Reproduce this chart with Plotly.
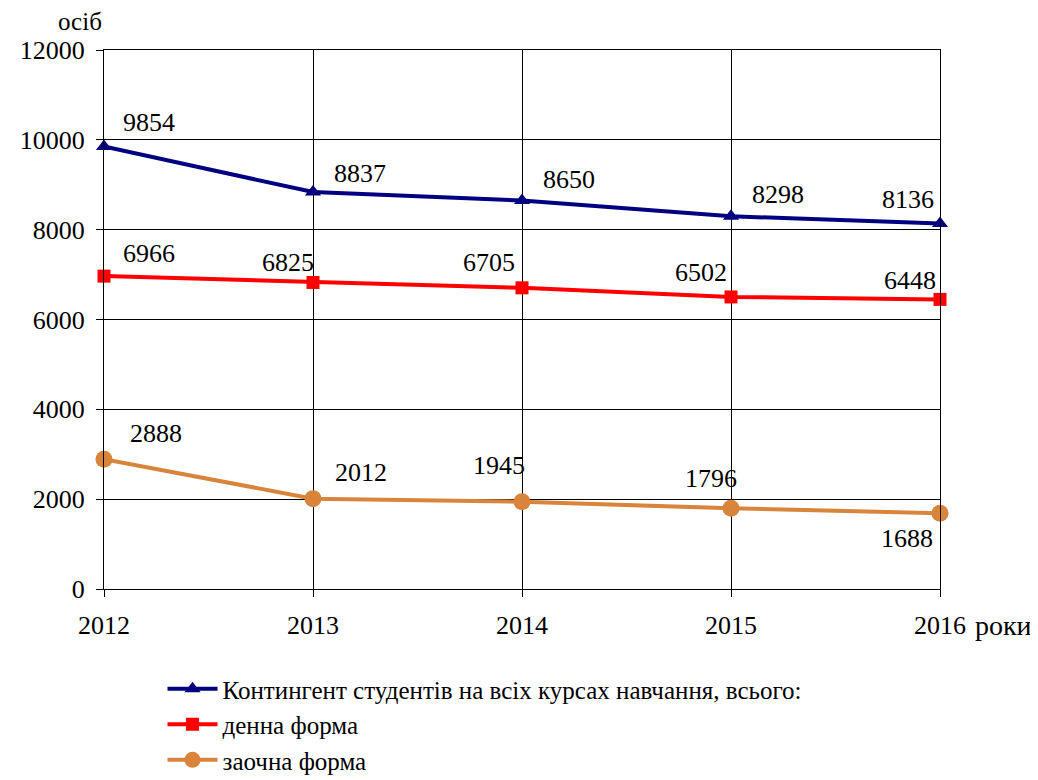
import plotly.graph_objects as go

# data
years = [2012, 2013, 2014, 2015, 2016]
total = [9854, 8837, 8650, 8298, 8136]
full_time = [6966, 6825, 6705, 6502, 6448]
part_time = [2888, 2012, 1945, 1796, 1688]

names = [
    "Контингент студентів на всіх курсах навчання, всього:",
    "денна форма",
    "заочна форма",
]

FONT = "Times New Roman, Liberation Serif, Tinos, serif"
NAVY = "#000080"
RED = "#ff0000"
ORANGE = "#d9843b"

# label offsets in px (dx, dy up) per point, so values sit where the original had them
_total_off = [(45, 24), (47, 19), (47, 21), (47, 22), (-32, 24)]
_full_off = [(45, 23), (-25, 20), (-33, 25), (-30, 24), (-30, 19)]
_part_off = [(52, 26), (48, 26), (-23, 36), (-20, 30), (-33, -25)]

series = [
    (names[0], total, NAVY, "triangle-up", 14, _total_off),
    (names[1], full_time, RED, "square", 13, _full_off),
    (names[2], part_time, ORANGE, "circle", 17, _part_off),
]

fig = go.Figure()
annotations = []
for name, vals, color, symbol, size, offs in series:
    fig.add_trace(
        go.Scatter(
            x=years,
            y=vals,
            name=name,
            mode="lines+markers",
            line=dict(color=color, width=4),
            marker=dict(symbol=symbol, size=size, color=color),
            cliponaxis=False,
        )
    )
    for xv, yv, (dx, dy) in zip(years, vals, offs):
        annotations.append(
            dict(
                x=xv, y=yv, xref="x", yref="y",
                text=str(yv), showarrow=False,
                xshift=dx, yshift=dy,
                font=dict(family=FONT, size=26),
            )
        )

# axis captions
annotations.append(
    dict(x=-0.057, y=1.052, xref="paper", yref="paper", text="осіб", showarrow=False,
         xanchor="left", yanchor="middle", font=dict(family=FONT, size=25))
)
annotations.append(
    dict(x=1.0, y=-0.067, xref="paper", yref="paper", text="роки", showarrow=False,
         xanchor="left", yanchor="middle", xshift=33, font=dict(family=FONT, size=28))
)

# figure is taller than the window so the legend below never squeezes the plot
fig.update_layout(
    width=1038,
    height=810,
    margin=dict(l=92, r=106, t=42, b=229),
    paper_bgcolor="#ffffff",
    plot_bgcolor="#ffffff",
    font=dict(family=FONT, size=26, color="#000000"),
    showlegend=True,
    legend=dict(
        x=0.07, y=-0.143, xanchor="left", yanchor="top",
        font=dict(size=25),
        tracegroupgap=0, itemwidth=50, bgcolor="rgba(0,0,0,0)",
    ),
    annotations=annotations,
)
fig.update_xaxes(
    range=[2012, 2016], tickvals=years, ticks="outside", ticklen=7,
    tickcolor="#000000", showline=True, linecolor="#000000", linewidth=1,
    mirror=True, showgrid=True, gridcolor="#000000", gridwidth=1,
    zeroline=False, ticklabelstandoff=6,
)
fig.update_yaxes(
    range=[0, 12000], dtick=2000, tickformat="d", ticks="outside", ticklen=7,
    tickcolor="#000000", showline=True, linecolor="#000000", linewidth=1,
    mirror=True, showgrid=True, gridcolor="#000000", gridwidth=1,
    zeroline=False, ticklabelstandoff=6,
)

fig.write_html("out.html")
